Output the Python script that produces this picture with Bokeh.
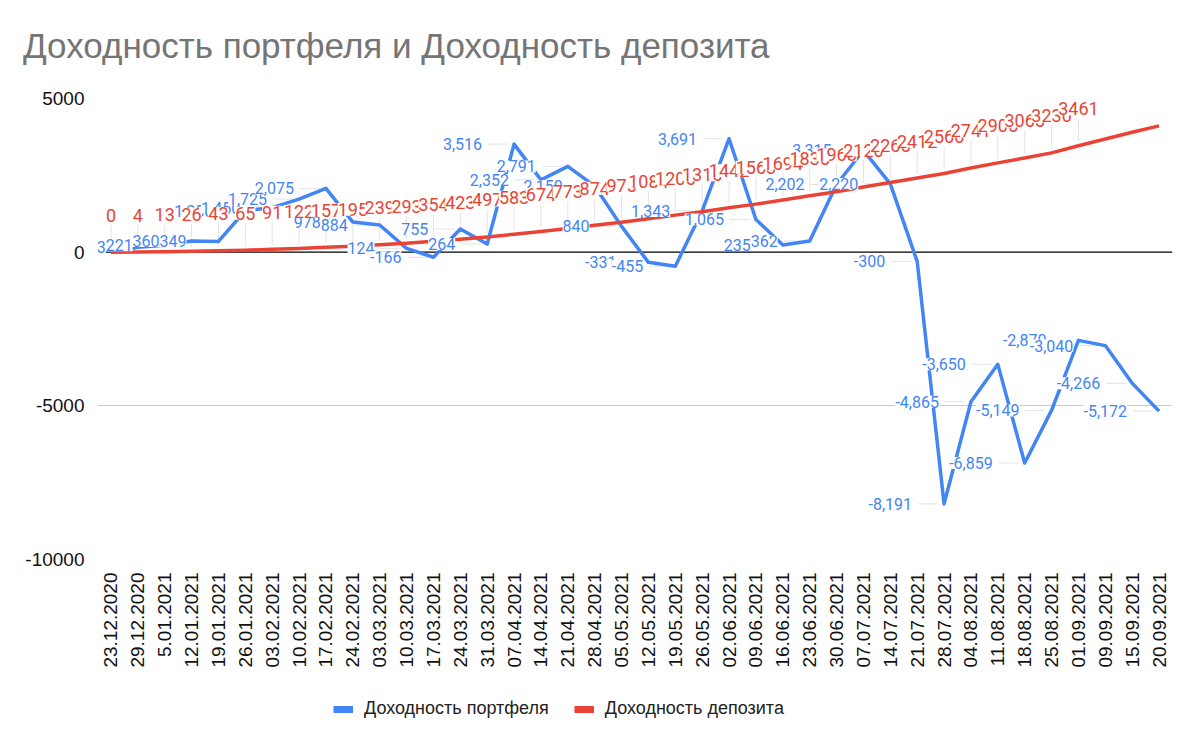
import math
from bokeh.plotting import figure
from bokeh.layouts import column
from bokeh.models import ColumnDataSource, FixedTicker, Span, Legend, LegendItem, Div
from bokeh.core.properties import value
from bokeh.embed import file_html
from bokeh.resources import INLINE

title_text = "Доходность портфеля и Доходность депозита"

dates = ["23.12.2020", "29.12.2020", "5.01.2021", "12.01.2021", "19.01.2021", "26.01.2021",
         "03.02.2021", "10.02.2021", "17.02.2021", "24.02.2021", "03.03.2021", "10.03.2021",
         "17.03.2021", "24.03.2021", "31.03.2021", "07.04.2021", "14.04.2021", "21.04.2021",
         "28.04.2021", "05.05.2021", "12.05.2021", "19.05.2021", "26.05.2021", "02.06.2021",
         "09.06.2021", "16.06.2021", "23.06.2021", "30.06.2021", "07.07.2021", "14.07.2021",
         "21.07.2021", "28.07.2021", "04.08.2021", "11.08.2021", "18.08.2021", "25.08.2021",
         "01.09.2021", "09.09.2021", "15.09.2021", "20.09.2021"]

portfolio = [0, 163, 221, 360, 349, 1350, 1450, 1725, 2075, 978,
             884, 124, -166, 755, 264, 3516, 2352, 2791, 2150, 840,
             -331, -455, 1343, 3691, 1065, 235, 362, 2202, 3315, 2220,
             -300, -8191, -4865, -3650, -6859, -5149, -2870, -3040, -4266, -5172]

deposit = [0, 4, 13, 26, 43, 65, 91, 122, 157, 195,
           239, 293, 354, 423, 497, 583, 674, 773, 874, 975,
           1084, 1205, 1316, 1442, 1563, 1694, 1835, 1968, 2120, 2265,
           2412, 2560, 2741, 2905, 3065, 3230, 3461, 3680, 3900, 4110]

deposit_labelled = 37  # the last points carry no data label in the original

series_names = ["Доходность портфеля", "Доходность депозита"]
y_ticks = [-10000, -5000, 0, 5000]

BLUE = "#4285F4"
RED = "#EA4335"

idx = list(range(len(dates)))

X0, X1 = -0.5, len(dates) - 0.5
Y0, Y1 = -10000, 5000
FW, FH = 1075, 461
PX_X = FW / (X1 - X0)
PX_Y = FH / (Y1 - Y0)

# title strip
title_div = Div(text=f'<div style="font-family:\'Liberation Sans\',Arial,sans-serif;font-size:35px;'
                     f'line-height:35px;color:#757575;padding:28px 0 0 23px;white-space:nowrap;">'
                     f'{title_text}</div>',
                width=1200, height=70, margin=0)

p = figure(frame_width=FW, frame_height=FH, output_backend="svg", toolbar_location=None,
           x_range=(X0, X1), y_range=(Y0, Y1),
           min_border_left=97, min_border_right=28, min_border_top=28, min_border_bottom=121)
p.outline_line_color = None
p.background_fill_color = "white"
p.border_fill_color = "white"

# axes
p.xaxis.ticker = FixedTicker(ticks=idx)
p.xaxis.major_label_overrides = {i: d for i, d in enumerate(dates)}
p.xaxis.major_label_orientation = math.pi / 2
p.xaxis.major_label_text_font = "Liberation Sans"
p.xaxis.major_label_text_font_size = "19px"
p.xaxis.major_label_text_color = "#111111"
p.xaxis.major_label_standoff = 7
p.yaxis.ticker = FixedTicker(ticks=y_ticks)
p.yaxis.major_label_overrides = {t: str(t) for t in y_ticks}
p.yaxis.major_label_text_font = "Liberation Sans"
p.yaxis.major_label_text_font_size = "19px"
p.yaxis.major_label_text_color = "#111111"
p.yaxis.major_label_standoff = 7
for ax in (p.xaxis, p.yaxis):
    ax.axis_line_color = None
    ax.major_tick_line_color = None
    ax.minor_tick_line_color = None

p.xgrid.visible = False
p.ygrid.ticker = FixedTicker(ticks=[t for t in y_ticks if t != 0])
p.ygrid.grid_line_color = "#cccccc"
p.ygrid.grid_line_width = 1
p.add_layout(Span(location=0, dimension="width", line_color="#000000", line_width=1.2, level="underlay"))

# leader lines (faint) connecting labels to points
bl_x0 = [i - 26 / PX_X for i in idx]
bl_x1 = [i - 6 / PX_X for i in idx]
p.segment(x0=bl_x0, y0=portfolio, x1=bl_x1, y1=portfolio, line_color="#e3e3e3", line_width=1)
rd_idx = idx[:deposit_labelled]
rd_y0 = [d + 4 / PX_Y for d in deposit[:deposit_labelled]]
rd_y1 = [d + 27 / PX_Y for d in deposit[:deposit_labelled]]
p.segment(x0=rd_idx, y0=rd_y0, x1=rd_idx, y1=rd_y1, line_color="#e3e3e3", line_width=1)

# lines
p.line(idx, portfolio, line_color=BLUE, line_width=3.5, line_join="round")
p.line(idx, deposit, line_color=RED, line_width=3.5, line_join="round")

# data labels
blue_src = ColumnDataSource(dict(x=idx, y=portfolio, t=[f"{v:,}" for v in portfolio]))
p.text(x="x", y="y", text="t", source=blue_src, x_offset=-32, text_align="right",
       text_baseline="middle", text_font=value("Roboto"), text_font_size="16px",
       text_color=BLUE, background_fill_color="white")
red_src = ColumnDataSource(dict(x=rd_idx, y=deposit[:deposit_labelled],
                                t=[str(v) for v in deposit[:deposit_labelled]]))
p.text(x="x", y="y", text="t", source=red_src, y_offset=-37, text_align="center",
       text_baseline="middle", text_font=value("Roboto"), text_font_size="18px",
       text_color=RED, background_fill_color="white")

# legend strip below the chart
LH = 67
q = figure(frame_width=FW, height=LH, output_backend="svg", toolbar_location=None,
           x_range=(X0, X1), y_range=(Y0, Y1), x_axis_location=None, y_axis_location=None,
           min_border_left=97, min_border_right=28, min_border_top=0, min_border_bottom=0)
q.outline_line_color = None
q.grid.visible = False
q.border_fill_color = "white"
leg_b = q.line(idx, portfolio, line_color=BLUE, line_width=7, visible=False)
leg_r = q.line(idx, deposit, line_color=RED, line_width=7, visible=False)
legend = Legend(items=[LegendItem(label=series_names[0], renderers=[leg_b]),
                       LegendItem(label=series_names[1], renderers=[leg_r])],
                orientation="horizontal", location=(236, 28),
                label_text_font="Liberation Sans", label_text_font_size="18px",
                label_text_color="#222222", glyph_width=20, glyph_height=20,
                label_height=20, label_standoff=11, spacing=25, border_line_color=None,
                background_fill_alpha=0, margin=0, padding=0, inactive_fill_alpha=0)
q.add_layout(legend, "center")

open("out.html", "w").write(file_html(column(title_div, p, q, spacing=0), INLINE))
